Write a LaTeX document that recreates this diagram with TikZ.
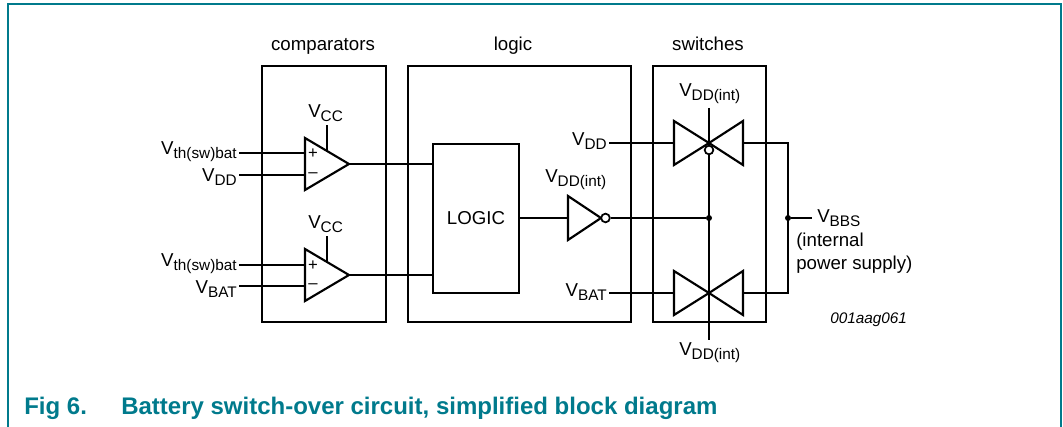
\documentclass[tikz,border=0pt]{standalone}
\usepackage{fontspec}
\setmainfont{Liberation Sans}
\usetikzlibrary{%
	positioning,
	calc
}
\definecolor{nxpteal}{RGB}{0,122,140}
\newcommand{\Vsub}[1]{V\raisebox{-3pt}{\fontsize{11.5}{13}\selectfont #1}}

\begin{document}
\begin{tikzpicture}[x=0.75pt,y=-0.75pt,
		block/.style={draw,line width=2.2pt},
		wire/.style={line width=1pt},
		gate/.style={draw,line width=1.6pt,line join=miter},
		lbl/.style={inner sep=1.5pt,font=\fontsize{14}{16}\selectfont},
		sign/.style={inner sep=0pt,font=\fontsize{12.5}{13}\selectfont},
		dot/.style={circle,fill,inner sep=0pt,minimum size=4.5pt},
		bubble/.style={circle,draw,fill=white,line width=1.3pt,inner sep=0pt,minimum size=6.5pt},
		caption/.style={inner sep=0pt, anchor=base west, text=nxpteal, font=\bfseries\fontsize{18}{20}\selectfont}
	]
	\useasboundingbox (0,0) rectangle (1063,427);
	
	%frame
	\draw[nxpteal,line width=1.6pt] (8,427) -- (8,4) -- (1061,4) -- (1061,427);
	
	%blocks
	\draw[block] (262,66) rectangle (386,322);
	\draw[block] (408,66) rectangle (631,322);
	\draw[block] (653,66) rectangle (766,322);
	\node(comp-title) [lbl, anchor=base] at (323,51) {comparators};
	\node(logic-title) [lbl, anchor=base] at (513,51) {logic};
	\node(sw-title) [lbl, anchor=base] at (708,51) {switches};
	
	%comparator 1
	\draw[gate] (305,138) -- (349,164) -- (305,190) -- cycle;
	\coordinate (c1-in1) at (305,153);
	\coordinate (c1-in2) at (305,175);
	\coordinate (c1-out) at (349,164);
	\coordinate (c1-vcc) at (327,151);
	\coordinate (c1-vcc-top) at (327,125);
	\node(c1-plus) [sign] at (313,154) {+};
	\node(c1-minus) [sign] at (313,175) {\textendash};
	\node(c1-vcc-lbl) [lbl, anchor=base west] at (306,118) {\Vsub{CC}};
	\node(c1-vth) [lbl, anchor=base east] at (239,155) {\Vsub{th(sw)bat}};
	\node(c1-vdd) [lbl, anchor=base east] at (239,182) {\Vsub{DD}};
	\draw[wire] (c1-vcc) -- (c1-vcc-top);
	\draw[wire] (c1-vth.east |- c1-in1) -- (c1-in1);
	\draw[wire] (c1-vdd.east |- c1-in2) -- (c1-in2);
	
	%comparator 2
	\draw[gate] (305,249) -- (349,275) -- (305,301) -- cycle;
	\coordinate (c2-in1) at (305,265);
	\coordinate (c2-in2) at (305,286);
	\coordinate (c2-out) at (349,275);
	\coordinate (c2-vcc) at (327,262);
	\coordinate (c2-vcc-top) at (327,236);
	\node(c2-plus) [sign] at (313,266) {+};
	\node(c2-minus) [sign] at (313,286) {\textendash};
	\node(c2-vcc-lbl) [lbl, anchor=base west] at (306,229) {\Vsub{CC}};
	\node(c2-vth) [lbl, anchor=base east] at (239,267) {\Vsub{th(sw)bat}};
	\node(c2-vbat) [lbl, anchor=base east] at (239,294) {\Vsub{BAT}};
	\draw[wire] (c2-vcc) -- (c2-vcc-top);
	\draw[wire] (c2-vth.east |- c2-in1) -- (c2-in1);
	\draw[wire] (c2-vbat.east |- c2-in2) -- (c2-in2);
	
	%logic
	\node(logic) [draw, line width=1.6pt, lbl, minimum width=64.5pt, minimum height=111.75pt] at (476,218.5) {LOGIC};
	\draw[wire] (c1-out) -- (logic.west |- c1-out);
	\draw[wire] (c2-out) -- (logic.west |- c2-out);
	
	%inverter
	\draw[gate] (568,196) -- (601,218) -- (568,240) -- cycle;
	\coordinate (inv-in) at (568,218);
	\node(inv-bub) [bubble] at (605.5,218) {};
	\node(inv-lbl) [lbl, anchor=base west] at (543,183) {\Vsub{DD(int)}};
	\node(bus-dot) [dot] at (709,218) {};
	\draw[wire] (logic.east |- inv-in) -- (inv-in);
	\draw[wire] (inv-bub.east) -- (bus-dot);
	
	%switches
	\coordinate (sw1-c) at (709,143);
	\coordinate (sw1-in) at (674,143);
	\coordinate (sw1-out) at (743,143);
	\coordinate (sw2-c) at (709,293);
	\coordinate (sw2-in) at (674,293);
	\coordinate (sw2-out) at (743,293);
	\coordinate (ctrl-top) at (709,108);
	\coordinate (ctrl-bot) at (709,340);
	\draw[gate] (674,121) -- (sw1-c) -- (674,165) -- cycle;
	\draw[gate] (743,121) -- (sw1-c) -- (743,165) -- cycle;
	\draw[gate] (674,271) -- (sw2-c) -- (674,315) -- cycle;
	\draw[gate] (743,271) -- (sw2-c) -- (743,315) -- cycle;
	\draw[wire] (ctrl-top) -- (ctrl-bot);
	\node(sw1-bub) [bubble] at (709,150) {};
	\node(ctrl-top-lbl) [lbl, anchor=base west] at (677,97) {\Vsub{DD(int)}};
	\node(ctrl-bot-lbl) [lbl, anchor=base west] at (677,355) {\Vsub{DD(int)}};
	\node(sw-vdd) [lbl, anchor=base east] at (609,146) {\Vsub{DD}};
	\node(sw-vbat) [lbl, anchor=base east] at (609,297) {\Vsub{BAT}};
	\draw[wire] (sw-vdd.east |- sw1-in) -- (sw1-in);
	\draw[wire] (sw-vbat.east |- sw2-in) -- (sw2-in);
	
	%output
	\node(vbbs-dot) [dot] at (788,218) {};
	\draw[wire] (sw1-out) -| (vbbs-dot.center) |- (sw2-out);
	\node(vbbs) [lbl, anchor=base west] at (815,223) {\Vsub{BBS}};
	\draw[wire] (vbbs-dot) -- ([xshift=-2pt]vbbs.west |- vbbs-dot);
	\node(vbbs-note1) [lbl, anchor=base west] at (794,247) {(internal};
	\node(vbbs-note2) [lbl, anchor=base west] at (794,270) {power supply)};
	
	\node(fig-id) [inner sep=0pt, anchor=base west, font=\itshape\fontsize{11.5}{13}\selectfont] at (830,324) {001aag061};
	
	%caption
	\node(fig-num) [caption] at (24,414) {Fig 6.};
	\node(fig-text) [caption] at (121,414) {Battery switch-over circuit, simplified block diagram};
	
\end{tikzpicture}
\end{document}
